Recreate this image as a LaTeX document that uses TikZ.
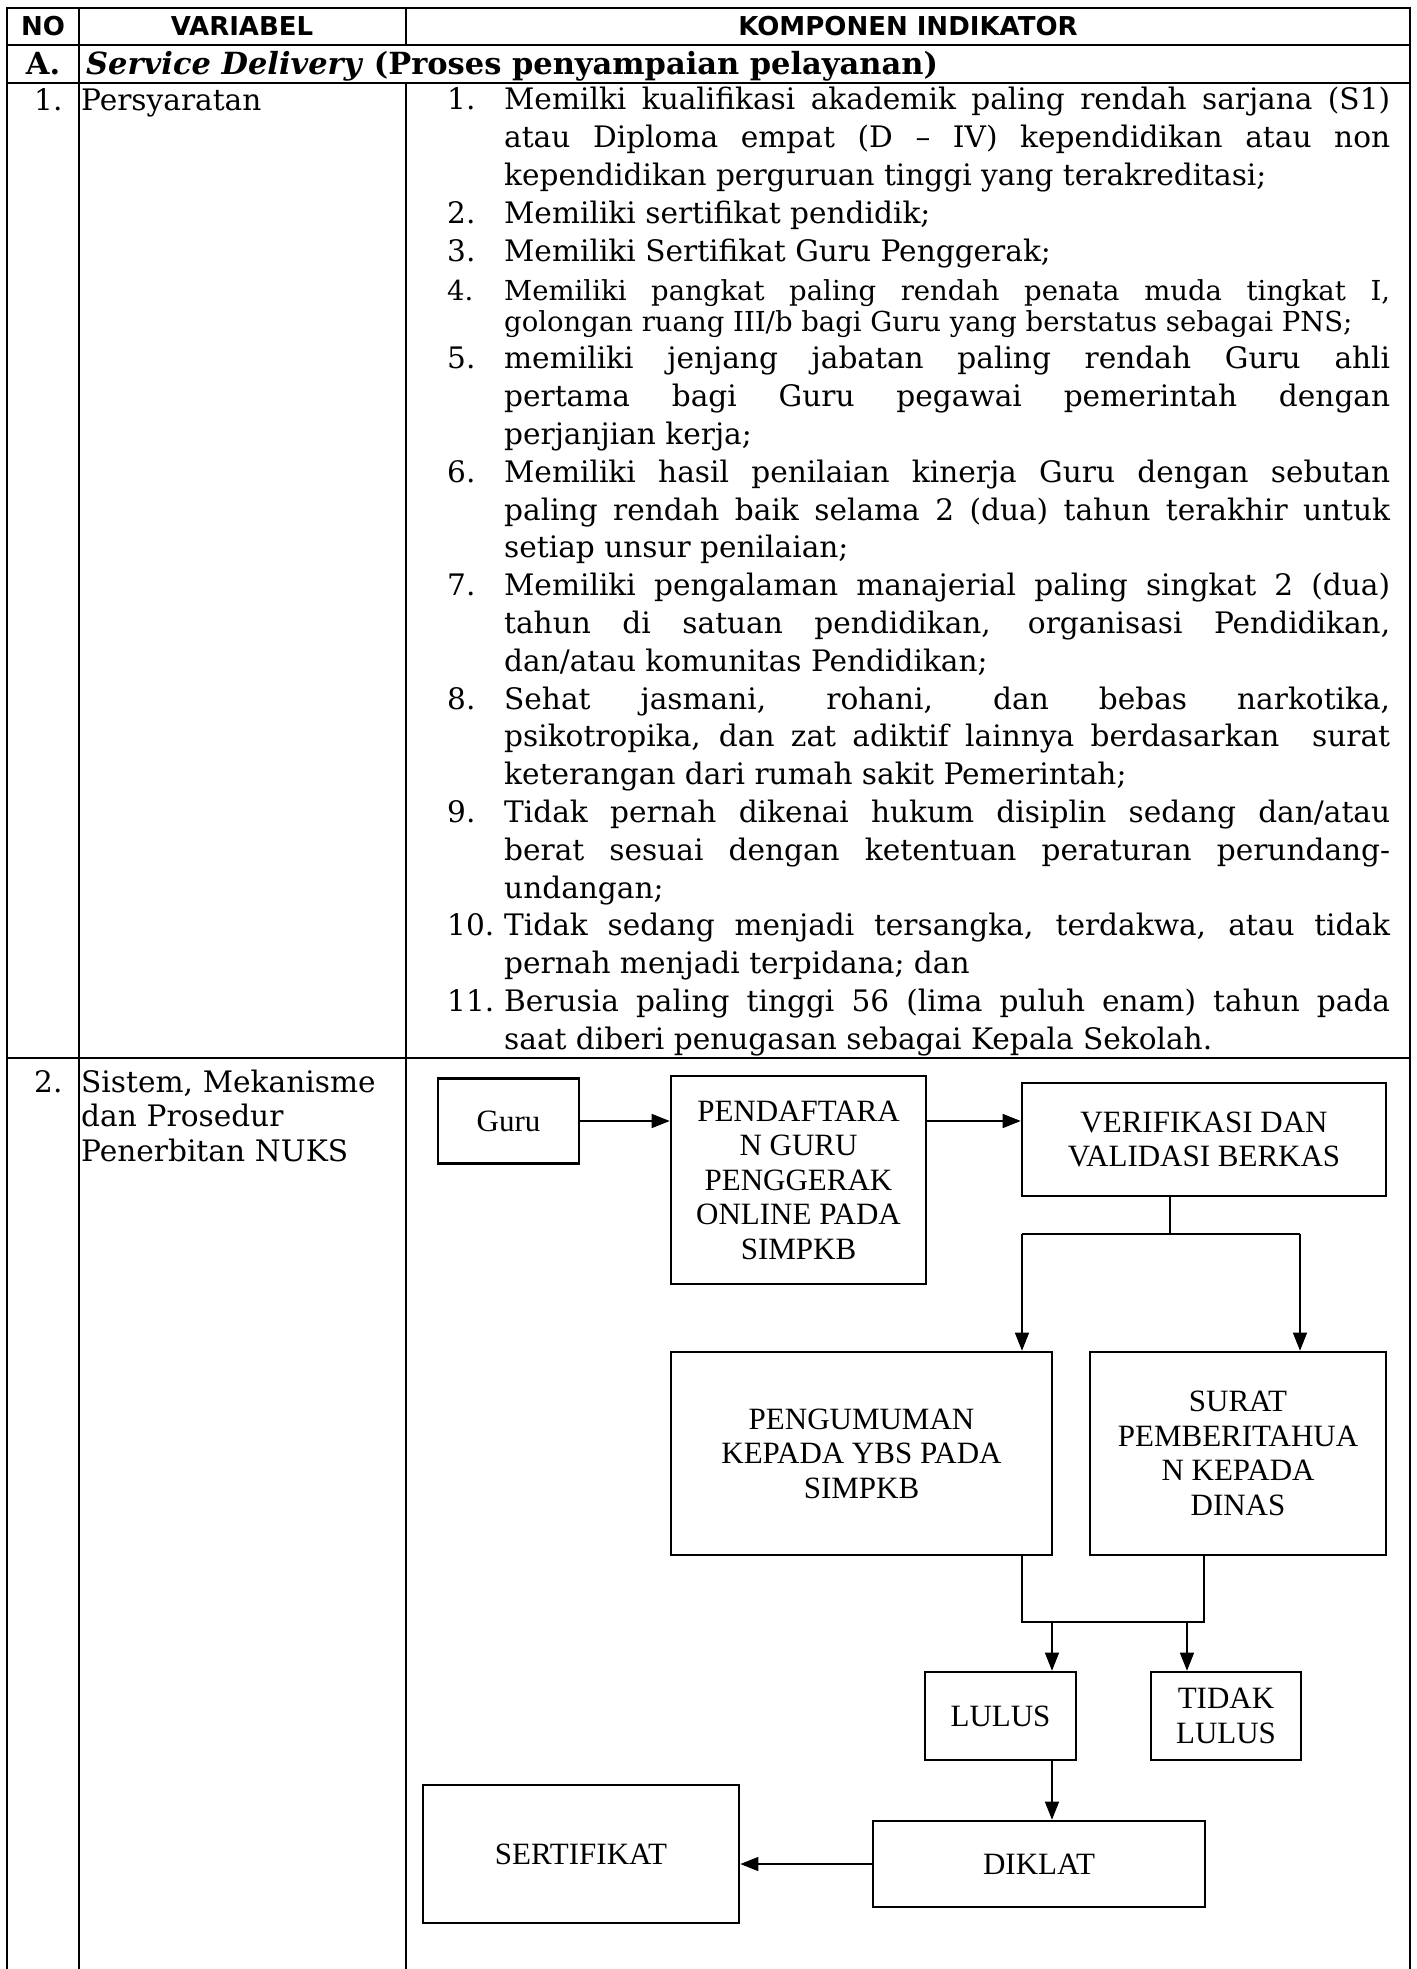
\documentclass[tikz,border=0pt]{standalone}
\usepackage{fontspec}
\setmainfont{DejaVu Serif}
\newfontfamily\judulfont{DejaVu Sans}
\newfontfamily\alurfont{Liberation Serif}
\usetikzlibrary{arrows.meta}

\newcommand{\isi}{\fontsize{29.6}{37.8}\selectfont}
\newcommand{\isikecil}{\fontsize{27.5}{30.5}\selectfont}
\newcommand{\isirapat}{\fontsize{29.6}{34.5}\selectfont}
\newcommand{\judul}{\judulfont\bfseries\fontsize{26}{30}\selectfont}
\newcommand{\alur}{\alurfont\fontsize{31}{34.5}\selectfont}
\newlength{\nomorw}\setlength{\nomorw}{57pt}
\newlength{\isiw}\setlength{\isiw}{886pt}
\newcommand{\nm}[1]{\makebox[\nomorw][l]{#1}}
\newcommand{\bj}[2]{\par\noindent\nm{#1}\makebox[\isiw][s]{#2}}
\newcommand{\bk}[2]{\par\noindent\nm{#1}\mbox{#2}}

\begin{document}
\begin{tikzpicture}[x=1pt, y=-1pt,
    garistabel/.style={line width=2.4pt, line cap=rect},
    kotak/.style={draw, line width=2.6pt, align=center, font=\alur, inner sep=0pt},
    panah/.style={-{Triangle[length=18pt,width=14pt]}, line width=1.4pt},
    hubung/.style={line width=1.4pt},
    teks/.style={inner sep=0pt, font=\isi}]
        \useasboundingbox (0,0) rectangle (1416,1969);

        \draw[garistabel] (7,8) -- (1410,8);
        \draw[garistabel] (7,45) -- (1410,45);
        \draw[garistabel] (7,83) -- (1410,83);
        \draw[garistabel] (7,1058) -- (1410,1058);
        \draw[garistabel] (7,8) -- (7,1969);
        \draw[garistabel] (79,8) -- (79,1969);
        \draw[garistabel] (406,8) -- (406,45);
        \draw[garistabel] (406,83) -- (406,1969);
        \draw[garistabel] (1410,8) -- (1410,1969);

        \node[teks, font=\judul, anchor=base] (hno) at (43,36) {NO};
        \node[teks, font=\judul, anchor=base] (hvar) at (242,36) {VARIABEL};
        \node[teks, font=\judul, anchor=base] (hkomp) at (908,36) {KOMPONEN INDIKATOR};

        \node[teks, font=\fontsize{30.5}{36}\selectfont, anchor=base] (na) at (43,75) {\textbf{A.}};
        \node[teks, font=\fontsize{30.5}{36}\selectfont, anchor=base west] (judula) at (86,75)
            {\textbf{\textit{Service Delivery} (Proses penyampaian pelayanan)}};

        \node[teks, anchor=base west] (no1) at (34,111) {1.};
        \node[teks, anchor=base west] (var1) at (81,111) {Persyaratan};
        \node[teks, anchor=north west, text width=943pt, align=justify] (syarat) at (447,72) {%
            \parindent=0pt\parskip=0pt\spaceskip=0pt\xspaceskip=0pt
            \bj{\rule{0pt}{30pt}1.}{Memilki kualifikasi akademik paling rendah sarjana (S1)}
            \bj{}{atau Diploma empat (D -- IV) kependidikan atau non}
            \bk{}{kependidikan perguruan tinggi yang terakreditasi;}
            \bk{2.}{Memiliki sertifikat pendidik;}
            \bk{3.}{Memiliki Sertifikat Guru Penggerak;}
            \par\vspace{9pt}
            {\isikecil
            \bj{4.}{Memiliki pangkat paling rendah penata muda tingkat I,}
            \bk{}{golongan ruang III/b bagi Guru yang berstatus sebagai PNS;}\par}
            \bj{5.}{memiliki jenjang jabatan paling rendah Guru ahli}
            \bj{}{pertama bagi Guru pegawai pemerintah dengan}
            \bk{}{perjanjian kerja;}
            \bj{6.}{Memiliki hasil penilaian kinerja Guru dengan sebutan}
            \bj{}{paling rendah baik selama 2 (dua) tahun terakhir untuk}
            \bk{}{setiap unsur penilaian;}
            \bj{7.}{Memiliki pengalaman manajerial paling singkat 2 (dua)}
            \bj{}{tahun di satuan pendidikan, organisasi Pendidikan,}
            \bk{}{dan/atau komunitas Pendidikan;}
            \bj{8.}{Sehat jasmani, rohani, dan bebas narkotika,}
            \bj{}{psikotropika, dan zat adiktif lainnya berdasarkan\ \ surat}
            \bk{}{keterangan dari rumah sakit Pemerintah;}
            \bj{9.}{Tidak pernah dikenai hukum disiplin sedang dan/atau}
            \bj{}{berat sesuai dengan ketentuan peraturan perundang-}
            \bk{}{undangan;}
            \bj{10.}{Tidak sedang menjadi tersangka, terdakwa, atau tidak}
            \bk{}{pernah menjadi terpidana; dan}
            \bj{11.}{Berusia paling tinggi 56 (lima puluh enam) tahun pada}
            \bk{}{saat diberi penugasan sebagai Kepala Sekolah.}\par};

        \node[teks, anchor=base west] (no2) at (34,1092) {2.};
        \node[teks, font=\isirapat, anchor=north west, text width=320pt] (var2) at (81,1062)
            {\rule{0pt}{30pt}Sistem, Mekanisme\par dan Prosedur\par Penerbitan NUKS};

        \node[kotak, minimum width=141pt, minimum height=85pt] (guru) at (508.5,1121) {Guru};
        \node[kotak, minimum width=255pt, minimum height=208pt] (daftar) at (798.5,1180)
            {PENDAFTARA\\N GURU\\PENGGERAK\\ONLINE PADA\\SIMPKB};
        \node[kotak, minimum width=364pt, minimum height=113pt] (verif) at (1204,1139.5)
            {VERIFIKASI DAN\\VALIDASI BERKAS};
        \node[kotak, minimum width=381pt, minimum height=203pt] (umum) at (861.5,1453.5)
            {PENGUMUMAN\\KEPADA YBS PADA\\SIMPKB};
        \node[kotak, minimum width=296pt, minimum height=203pt] (surat) at (1238,1453.5)
            {SURAT\\PEMBERITAHUA\\N KEPADA\\DINAS};
        \node[kotak, minimum width=151pt, minimum height=88pt] (lulus) at (1000.5,1716) {LULUS};
        \node[kotak, minimum width=150pt, minimum height=88pt] (tidak) at (1226,1716) {TIDAK\\LULUS};
        \node[kotak, minimum width=332pt, minimum height=86pt] (diklat) at (1039,1864) {DIKLAT};
        \node[kotak, minimum width=316pt, minimum height=138pt] (sertifikat) at (581,1854) {SERTIFIKAT};

        \coordinate (pecah) at (1170,1234);
        \coordinate (pecahkiri) at (1022,1234);
        \coordinate (pecahkanan) at (1300,1234);
        \coordinate (gabungkiri) at (1022,1622);
        \coordinate (gabungkanan) at (1204,1622);
        \coordinate (kelulus) at (1052,1622);
        \coordinate (ketidak) at (1187,1622);

        \draw[panah] (guru.east) -- (guru.east -| daftar.west);
        \draw[panah] (daftar.east |- guru.east) -- (verif.west |- guru.east);
        \draw[hubung] (pecah |- verif.south) -- (pecah);
        \draw[hubung] (pecahkiri) -- (pecahkanan);
        \draw[panah] (pecahkiri) -- (pecahkiri |- umum.north);
        \draw[panah] (pecahkanan) -- (pecahkanan |- surat.north);
        \draw[hubung] (gabungkiri |- umum.south) -- (gabungkiri) -- (gabungkanan) -- (gabungkanan |- surat.south);
        \draw[panah] (kelulus) -- (kelulus |- lulus.north);
        \draw[panah] (ketidak) -- (ketidak |- tidak.north);
        \draw[panah] (kelulus |- lulus.south) -- (kelulus |- diklat.north);
        \draw[panah] (diklat.west) -- (diklat.west -| sertifikat.east);
    \end{tikzpicture}
\end{document}
